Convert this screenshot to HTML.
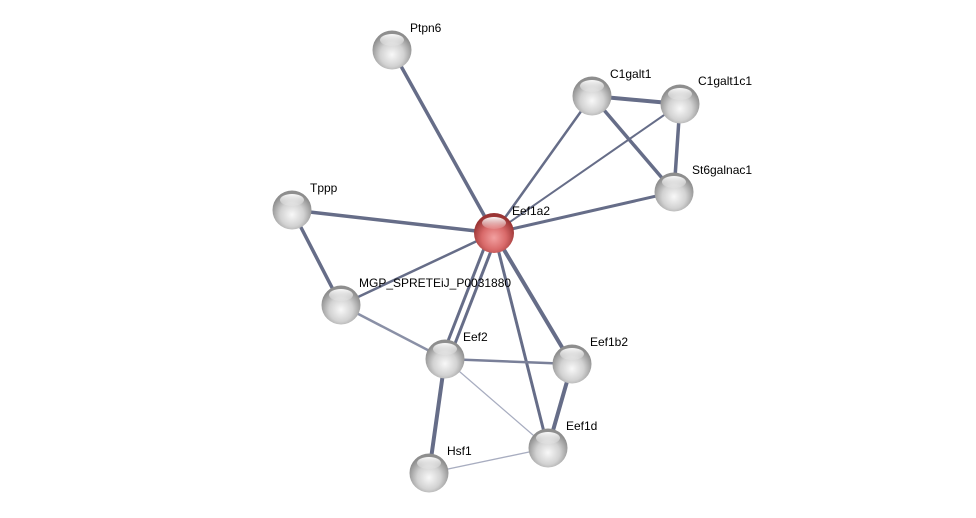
<!DOCTYPE html>
<html><head><style>body{margin:0;background:#fff}svg{display:block}text{font-family:"Liberation Sans",sans-serif;font-size:12px;fill:#000}</style></head><body>
<svg width="976" height="518" viewBox="0 0 976 518">
<defs>
<radialGradient id="g" cx="50%" cy="62%" r="55%">
<stop offset="0" stop-color="#f8f8f8"/><stop offset="0.55" stop-color="#d2d2d2"/><stop offset="1" stop-color="#8e8e8e"/></radialGradient>
<radialGradient id="r" cx="50%" cy="62%" r="55%">
<stop offset="0" stop-color="#f2a0a0"/><stop offset="0.55" stop-color="#d96a6a"/><stop offset="1" stop-color="#9a3434"/></radialGradient>
<linearGradient id="h" x1="0" y1="0" x2="0" y2="1"><stop offset="0" stop-color="#fff" stop-opacity="0.95"/><stop offset="1" stop-color="#fff" stop-opacity="0.1"/></linearGradient>
</defs>
<g stroke="#666d88" stroke-linecap="round">
<line x1="494" y1="233" x2="392" y2="50" stroke-width="3.5"/>
<line x1="494" y1="233" x2="592" y2="96" stroke-width="2.5"/>
<line x1="494" y1="233" x2="680" y2="104" stroke-width="2"/>
<line x1="494" y1="233" x2="674" y2="192" stroke-width="3"/>
<line x1="494" y1="233" x2="292" y2="210" stroke-width="3.5"/>
<line x1="494" y1="233" x2="341" y2="305" stroke-width="2.5"/>
<line x1="490" y1="233" x2="441" y2="359" stroke-width="3"/>
<line x1="498" y1="233" x2="449" y2="359" stroke-width="3"/>
<line x1="494" y1="233" x2="572" y2="364" stroke-width="4"/>
<line x1="494" y1="233" x2="548" y2="448" stroke-width="3"/>
<line x1="592" y1="96" x2="680" y2="104" stroke-width="4"/>
<line x1="592" y1="96" x2="674" y2="192" stroke-width="3.5"/>
<line x1="680" y1="104" x2="674" y2="192" stroke-width="3.5"/>
<line x1="292" y1="210" x2="341" y2="305" stroke-width="3.5"/>
<line x1="341" y1="305" x2="445" y2="359" stroke-width="2.5" stroke="#8a90a6"/>
<line x1="445" y1="359" x2="572" y2="364" stroke-width="2.5" stroke="#7a8099"/>
<line x1="445" y1="359" x2="429" y2="473" stroke-width="4"/>
<line x1="445" y1="359" x2="548" y2="448" stroke-width="1.3" stroke="#a8adc0"/>
<line x1="429" y1="473" x2="548" y2="448" stroke-width="1.3" stroke="#a8adc0"/>
<line x1="572" y1="364" x2="548" y2="448" stroke-width="4"/>
</g>
<g>
<g transform="translate(392,50)"><circle r="19.5" fill="url(#g)"/><ellipse cy="-10" rx="12" ry="6" fill="url(#h)"/></g>
<g transform="translate(592,96)"><circle r="19.5" fill="url(#g)"/><ellipse cy="-10" rx="12" ry="6" fill="url(#h)"/></g>
<g transform="translate(680,104)"><circle r="19.5" fill="url(#g)"/><ellipse cy="-10" rx="12" ry="6" fill="url(#h)"/></g>
<g transform="translate(674,192)"><circle r="19.5" fill="url(#g)"/><ellipse cy="-10" rx="12" ry="6" fill="url(#h)"/></g>
<g transform="translate(292,210)"><circle r="19.5" fill="url(#g)"/><ellipse cy="-10" rx="12" ry="6" fill="url(#h)"/></g>
<g transform="translate(494,233)"><circle r="20" fill="url(#r)"/><ellipse cy="-10" rx="12" ry="6" fill="url(#h)"/></g>
<g transform="translate(341,305)"><circle r="19.5" fill="url(#g)"/><ellipse cy="-10" rx="12" ry="6" fill="url(#h)"/></g>
<g transform="translate(445,359)"><circle r="19.5" fill="url(#g)"/><ellipse cy="-10" rx="12" ry="6" fill="url(#h)"/></g>
<g transform="translate(572,364)"><circle r="19.5" fill="url(#g)"/><ellipse cy="-10" rx="12" ry="6" fill="url(#h)"/></g>
<g transform="translate(548,448)"><circle r="19.5" fill="url(#g)"/><ellipse cy="-10" rx="12" ry="6" fill="url(#h)"/></g>
<g transform="translate(429,473)"><circle r="19.5" fill="url(#g)"/><ellipse cy="-10" rx="12" ry="6" fill="url(#h)"/></g>
</g>
<text x="410" y="32">Ptpn6</text>
<text x="610" y="78">C1galt1</text>
<text x="698" y="85">C1galt1c1</text>
<text x="692" y="174">St6galnac1</text>
<text x="310" y="192">Tppp</text>
<text x="512" y="215">Eef1a2</text>
<text x="359" y="287">MGP_SPRETEiJ_P0031880</text>
<text x="463" y="341">Eef2</text>
<text x="590" y="346">Eef1b2</text>
<text x="566" y="430">Eef1d</text>
<text x="447" y="455">Hsf1</text>
</svg>
</body></html>
